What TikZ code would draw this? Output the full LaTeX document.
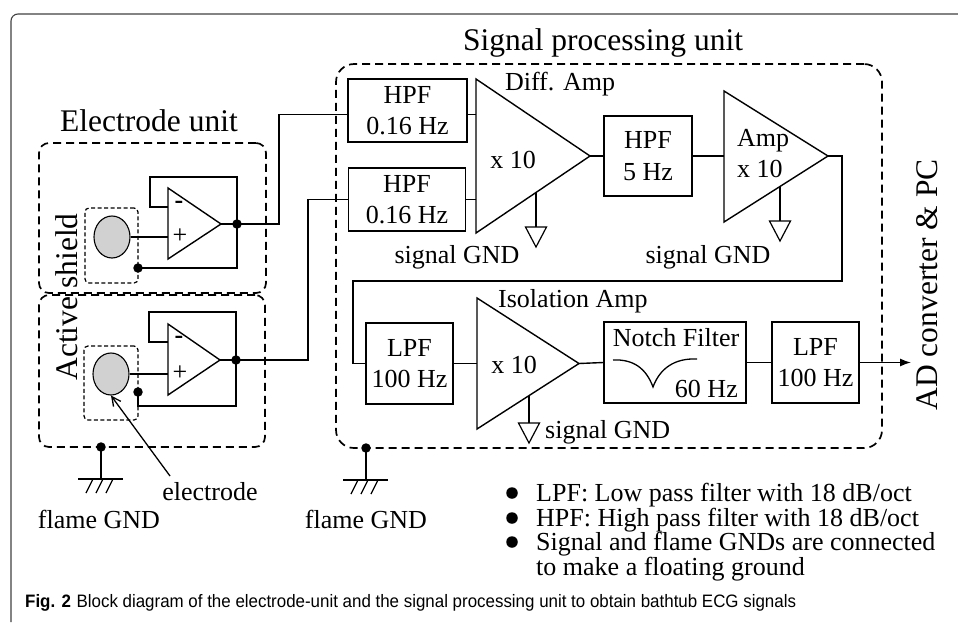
\documentclass[tikz,border=0pt]{standalone}
\usepackage{fontspec}
\setmainfont{Liberation Serif}
\newfontfamily\capfont{Liberation Sans}
\usetikzlibrary{arrows.meta,calc,shapes.geometric}
\newcommand\fsbig{\fontsize{31.5}{36}\selectfont}
\newcommand\fsmid{\fontsize{26}{31}\selectfont}
\begin{document}
\begin{tikzpicture}[x=1pt,y=-1pt,
  wire/.style={line width=1.4pt,line join=miter},
  blk/.style={draw,line width=1.4pt,inner sep=0pt,align=center,font=\fsmid},
  dbox/.style={draw,line width=1.7pt,dash pattern=on 8pt off 5pt,rounded corners=#1,inner sep=0pt},
  ibox/.style={draw,line width=1.2pt,dash pattern=on 4pt off 2.5pt,rounded corners=4pt,inner sep=0pt},
  dot/.style={circle,fill,inner sep=0pt,minimum size=9.5pt},
  bul/.style={circle,fill,inner sep=0pt,minimum size=11.5pt},
  elec/.style={ellipse,draw,fill=black!18,line width=1.1pt,inner sep=0pt,minimum width=36pt,minimum height=42pt},
  lbl/.style={font=\fsmid,inner sep=0pt},
  ttl/.style={font=\fsbig,inner sep=0pt},
  fgnd/.pic={\draw[line width=1.4pt] (0,0) -- (0,32);
             \draw[line width=1.4pt] (-23,32) -- (22,32);
             \foreach \d in {-8,2,12} \draw[line width=1.2pt] (\d,32) -- (\d-7,46);},
  sgnd/.pic={\draw[line width=1.2pt] (-10.5,0) -- (10.5,0) -- (0,20) -- cycle;}
]
\useasboundingbox (0,0) rectangle (958,622);
% outer frame
\draw[line width=1.1pt,black!75,rounded corners=7pt] (11,622) -- (11,14) -- (958,14);

% ---------- titles
\node[ttl,anchor=base] (tEU) at (149,131) {Electrode unit};
\node[ttl,anchor=base] (tSP) at (603,50) {Signal processing unit};
\node[ttl,anchor=base,rotate=90] (tAS) at (77,297) {Active shield};
\node[ttl,anchor=base,rotate=90] (tAD) at (937,285) {AD converter \& PC};

% ---------- electrode unit boxes
\node[dbox=10pt,minimum width=227pt,minimum height=150pt] (eb1) at (152.5,218) {};
\node[dbox=10pt,minimum width=226pt,minimum height=152pt] (eb2) at (152,371) {};
\node[ibox,minimum width=53pt,minimum height=75pt] (ib1) at (111.5,245.5) {};
\node[ibox,minimum width=54pt,minimum height=74pt] (ib2) at (111,383) {};
\node[elec] (c1) at (112,237) {};
\node[elec] (c2) at (111,374) {};

% op-amp 1
\coordinate (oa1t) at (168,188);
\coordinate (oa1b) at (168,259);
\coordinate (oa1o) at (221,224);
\coordinate (oa1m) at (168,207);
\coordinate (oa1p) at (168,237);
\draw[wire] (oa1t) -- (oa1o) -- (oa1b) -- cycle;
\node[lbl,font=\fsmid\bfseries] (m1) at (179,205) {-};
\node[lbl] (p1) at (180,236) {+};
\node[dot] (j1) at (237,224) {};
\node[dot] (s1) at (138,268) {};
\draw[wire] (oa1m) -- (150,207) -- (150,177) -- (237,177) -- (j1.center);
\draw[wire] (c1.east) -- (oa1p);
\draw[wire] (s1.center) -- (237,268) -- (j1.center);

% op-amp 2
\coordinate (oa2t) at (168,324);
\coordinate (oa2b) at (168,395);
\coordinate (oa2o) at (220,360);
\coordinate (oa2m) at (168,342);
\coordinate (oa2p) at (168,374);
\draw[wire] (oa2t) -- (oa2o) -- (oa2b) -- cycle;
\node[lbl,font=\fsmid\bfseries] (m2) at (179,340) {-};
\node[lbl] (p2) at (180,373) {+};
\node[dot] (j2) at (236,360) {};
\node[dot] (s2) at (138,392) {};
\draw[wire] (oa2m) -- (149,342) -- (149,312) -- (236,312) -- (j2.center);
\draw[wire] (c2.east) -- (oa2p);
\draw[wire] (s2.center) -- (138,406) -- (236,406) -- (j2.center);

% electrode pointer
\node[lbl,anchor=base] (tel) at (210,500) {electrode};
\coordinate (elp) at (170,476);
\draw[line width=1.3pt,-{Straight Barb[length=9pt,width=9pt]}] (elp) -- (c2.south);

% frame grounds
\node[dot] (g1) at (101,447) {};
\pic at (g1.center) {fgnd};
\node[lbl,anchor=base] (tfg1) at (99,528) {flame GND};

% ---------- signal processing unit
\node[dbox=18pt,minimum width=546pt,minimum height=384pt] (spu) at (609,256) {};
\node[dot] (g2) at (366,448) {};
\pic at (g2.center) {fgnd};
\node[lbl,anchor=base] (tfg2) at (366,528) {flame GND};

\node[blk,minimum width=119pt,minimum height=63pt] (hpf1) at (407.5,110.5) {HPF\\0.16 Hz};
\node[blk,minimum width=117pt,minimum height=63pt] (hpf2) at (407,199.5) {HPF\\0.16 Hz};
\draw[wire] (oa1o) -- (j1.center) -- (279,224) |- ([yshift=-4pt]hpf1.west);
\draw[wire] (oa2o) -- (j2.center) -- (308,360) |- (hpf2.west);

% diff amp
\coordinate (dat) at (476,79);
\coordinate (dab) at (476,233);
\coordinate (dao) at (590,156);
\coordinate (dai1) at (476,114.5);
\coordinate (dai2) at (476,199.5);
\draw[wire] (dat) -- (dao) -- (dab) -- cycle;
\draw[wire] ([yshift=-4pt]hpf1.east) -- (dai1);
\draw[wire] (hpf2.east) -- (dai2);
\node[lbl] (tx1) at (513,160) {x 10};
\node[lbl,anchor=base] (tda) at (560,90) {Diff. Amp};
\coordinate (dag) at (536,192.5);
\coordinate (dagt) at (536,227);
\draw[wire] (dag) -- (dagt);
\pic at (dagt) {sgnd};
\node[lbl,anchor=base] (tsg1) at (457,263) {signal GND};

% HPF 5 Hz
\node[blk,minimum width=88pt,minimum height=80pt,font=\fontsize{26}{32}\selectfont] (hpf5) at (648,156) {HPF\\5 Hz};
\draw[wire] (dao) -- (hpf5.west);

% Amp
\coordinate (amt) at (724,91);
\coordinate (amb) at (724,222);
\coordinate (amo) at (828,156);
\coordinate (ami) at (724,156);
\draw[wire] (amt) -- (amo) -- (amb) -- cycle;
\draw[wire] (hpf5.east) -- (ami);
\node[lbl,anchor=base west] (tam) at (737,146) {Amp};
\node[lbl,anchor=base west] (tx2) at (737,177) {x 10};
\coordinate (amg) at (780,186.5);
\coordinate (amgt) at (780,221);
\draw[wire] (amg) -- (amgt);
\pic at (amgt) {sgnd};
\node[lbl,anchor=base] (tsg2) at (708,263) {signal GND};

% LPF 100 Hz (1)
\node[blk,minimum width=87pt,minimum height=81pt] (lpf1) at (409.5,363.5) {LPF\\100 Hz};
\draw[wire] (amo) -- (842,156) -- (842,281) -- (353,281) |- (lpf1.west);

% isolation amp
\coordinate (iat) at (477,298);
\coordinate (iab) at (477,429);
\coordinate (iao) at (579,363.5);
\coordinate (iai) at (477,363.5);
\draw[wire] (iat) -- (iao) -- (iab) -- cycle;
\draw[wire] (lpf1.east) -- (iai);
\node[lbl] (tx3) at (514,365) {x 10};
\node[lbl,anchor=base west] (tia) at (498,307) {Isolation Amp};
\coordinate (iag) at (529,395.6);
\coordinate (iagt) at (529,423);
\draw[wire] (iag) -- (iagt);
\pic at (iagt) {sgnd};
\node[lbl,anchor=base west] (tsg3) at (545,438) {signal GND};

% notch filter
\node[blk,minimum width=142pt,minimum height=81pt] (notch) at (675,362.5) {};
\node[lbl,anchor=base] (tnf) at (676,346) {Notch Filter};
\node[lbl,anchor=base east] (t60) at (738,397) {60 Hz};
\draw[line width=1.3pt] (613,360) .. controls (633,359) and (646,368) .. (653,387)
      .. controls (660,368) and (675,358) .. (697,359);
\draw[wire] (iao) -- (notch.west);

% LPF 100 Hz (2)
\node[blk,minimum width=87pt,minimum height=81pt] (lpf2) at (815.5,362.5) {LPF\\100 Hz};
\draw[wire] (notch.east) -- (lpf2.west);
\coordinate (adin) at (911,362.5);
\draw[wire,-{Latex[length=11pt,width=8pt]}] (lpf2.east) -- (adin);

% legend
\node[bul] (b1) at (512,493) {};
\node[bul] (b2) at (512,518) {};
\node[bul] (b3) at (512,542) {};
\node[lbl,anchor=base west] (l1) at (536,501) {LPF: Low pass filter with 18 dB/oct};
\node[lbl,anchor=base west] (l2) at (536,526) {HPF: High pass filter with 18 dB/oct};
\node[lbl,anchor=base west] (l3) at (536,550) {Signal and flame GNDs are connected};
\node[lbl,anchor=base west] (l4) at (536,575) {to make a floating ground};

% caption
\node[anchor=base west,inner sep=0pt,font=\capfont\fontsize{18}{21}\selectfont] (cap) at (25,607)
  {\scalebox{0.94}[1]{\textbf{Fig. 2}\hspace{6pt}Block diagram of the electrode-unit and the signal processing unit to obtain bathtub ECG signals}};
\end{tikzpicture}
\end{document}
